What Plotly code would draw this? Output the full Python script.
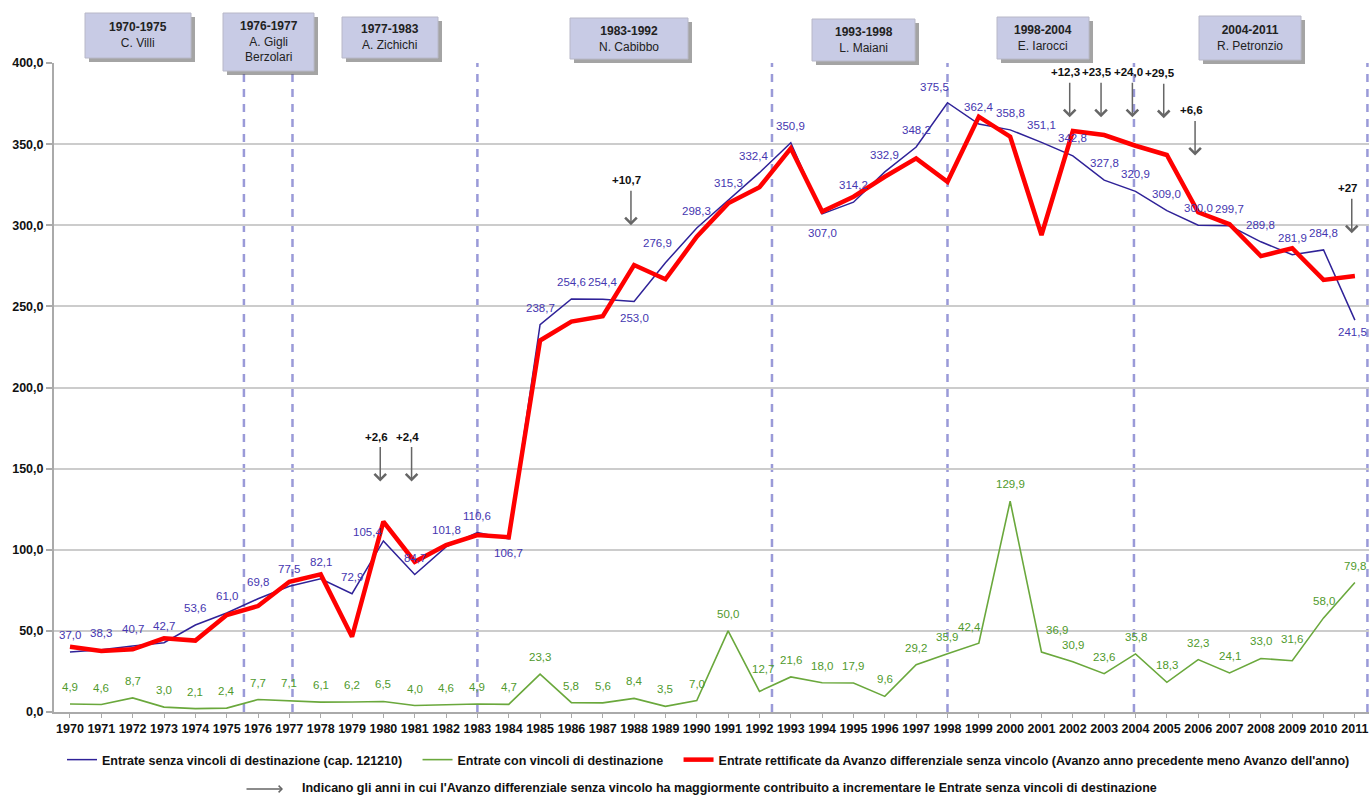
import plotly.graph_objects as go

# ---------------- data ----------------
years = list(range(1970, 2012))
entrate_senza_vincoli = [37.0, 38.3, 40.7, 42.7, 53.6, 61.0, 69.8, 77.5, 82.1, 72.9,
                         105.4, 84.7, 101.8, 110.6, 106.7, 238.7, 254.6, 254.4, 253.0, 276.9,
                         298.3, 315.3, 332.4, 350.9, 307.0, 314.2, 332.9, 348.2, 375.5, 362.4,
                         358.8, 351.1, 342.8, 327.8, 320.9, 309.0, 300.0, 299.7, 289.8, 281.9,
                         284.8, 241.5]
entrate_con_vincoli = [4.9, 4.6, 8.7, 3.0, 2.1, 2.4, 7.7, 7.1, 6.1, 6.2,
                       6.5, 4.0, 4.6, 4.9, 4.7, 23.3, 5.8, 5.6, 8.4, 3.5,
                       7.0, 50.0, 12.7, 21.6, 18.0, 17.9, 9.6, 29.2, 35.9, 42.4,
                       129.9, 36.9, 30.9, 23.6, 35.8, 18.3, 32.3, 24.1, 33.0, 31.6,
                       58.0, 79.8]
entrate_rettificate = [40.2, 37.6, 38.6, 45.4, 44.0, 59.8, 65.3, 80.3, 84.8, 46.4,
                       117.3, 92.6, 102.9, 109.1, 107.7, 229.0, 240.6, 244.0, 275.5, 266.7,
                       292.9, 313.5, 323.4, 347.4, 308.4, 317.6, 329.9, 341.2, 326.8, 366.9,
                       354.6, 294.0, 358.1, 355.6, 349.0, 343.3, 308.0, 300.6, 281.0, 285.8,
                       266.3, 268.7]

series_names = [
    "Entrate senza vincoli di destinazione (cap. 121210)",
    "Entrate con vincoli di destinazione",
    "Entrate rettificate da Avanzo differenziale senza vincolo (Avanzo anno precedente meno Avanzo dell'anno)",
]

tenure_periods = ["1970-1975", "1976-1977", "1977-1983", "1983-1992", "1993-1998", "1998-2004", "2004-2011"]
tenure_names = ["C. Villi", "A. Gigli<br>Berzolari", "A. Zichichi", "N. Cabibbo", "L. Maiani", "E. Iarocci", "R. Petronzio"]
tenure_dividers = [1975.55, 1977.1, 1983.0, 1992.4, 1998.0, 2003.95, 2011.4]

avanzo_years = [1980, 1981, 1988, 2002, 2003, 2004, 2005, 2006, 2011]
avanzo_labels = ["+2,6", "+2,4", "+10,7", "+12,3", "+23,5", "+24,0", "+29,5", "+6,6", "+27"]

footnote = "Indicano gli anni in cui l'Avanzo differenziale senza vincolo ha maggiormente contribuito a incrementare le Entrate senza vincoli di destinazione"

# ---------------- layout / style settings ----------------
W, H = 1369, 796
ML, MR, MT, MB = 54, 0, 63, 84
PW, PH = W - ML - MR, H - MT - MB
XMIN, XMAX = 1969.49, 2011.45

BLUE = "#2f2298"
BLUE_TXT = "#4536b0"
GREEN = "#6aa83c"
GREEN_TXT = "#4f9a2c"
RED = "#ff0000"
DASH = "#9a9ad8"
BOX_FILL = "#c8cbe5"
FONT = "Arial, Liberation Sans"

def px_x(px):
    return (px - ML) / PW

def px_y(py):
    return (H - MB - py) / PH

# box pixel rects (x0, y0, x1, y1)
box_rects = [(85, 13, 191, 58), (223, 13, 314, 71), (342, 17, 438, 58), (570, 18, 688, 59),
             (812, 19, 915, 61), (997, 17, 1089, 59), (1199, 16, 1301, 60)]
# arrow tip heights (value-axis units)
arrow_tips = [142, 142, 300, 366.5, 366.5, 366.5, 366, 343, 295]

# label offset overrides: index -> (xshift, yshift)
blue_off = {10: (-16, 9), 14: (0, -14), 18: (0, -16), 19: (-8, 20), 22: (-6, 17), 24: (0, -19),
            28: (-13, 16), 32: (0, 18), 41: (-2, -12)}
green_off = {22: (4, 22), 29: (-9, 16), 31: (15, 22), 39: (0, 22)}

def fmt(v):
    return f"{v:.1f}".replace(".", ",")

NB = "\u00a0" * 3  # small spacing after legend entries

fig = go.Figure()

fig.add_trace(go.Scatter(x=years, y=entrate_senza_vincoli, mode="lines", name=series_names[0] + NB,
                         line=dict(color=BLUE, width=1.5)))
fig.add_trace(go.Scatter(x=years, y=entrate_con_vincoli, mode="lines", name=series_names[1] + NB,
                         line=dict(color=GREEN, width=1.6)))
fig.add_trace(go.Scatter(x=years, y=entrate_rettificate, mode="lines", name=series_names[2],
                         line=dict(color=RED, width=4.5)))

shapes = []
annotations = []

# dashed tenure dividers
for xd in tenure_dividers:
    shapes.append(dict(type="line", xref="x", yref="y", x0=xd, x1=xd, y0=0, y1=400,
                       line=dict(color=DASH, width=2.5, dash="8px,7px"), layer="below"))

# tenure boxes
for (x0, y0, x1, y1), per, nm in zip(box_rects, tenure_periods, tenure_names):
    shapes.append(dict(type="rect", xref="paper", yref="paper",
                       x0=px_x(x0 + 4), x1=px_x(x1 + 4), y0=px_y(y1 + 4), y1=px_y(y0 + 4),
                       fillcolor="rgba(90,90,90,0.55)", line=dict(width=0), layer="above"))
    shapes.append(dict(type="rect", xref="paper", yref="paper",
                       x0=px_x(x0), x1=px_x(x1), y0=px_y(y1), y1=px_y(y0),
                       fillcolor=BOX_FILL, line=dict(color="#b8b8c8", width=1), layer="above"))
    annotations.append(dict(xref="paper", yref="paper", x=px_x((x0 + x1) / 2),
                            y=px_y((y0 + y1) / 2), text=f"<b>{per}</b><br>{nm}",
                            showarrow=False, xanchor="center", yanchor="middle",
                            font=dict(family=FONT, size=12, color="#222")))

# data labels
for i, (yr, v) in enumerate(zip(years, entrate_senza_vincoli)):
    xs, ys = blue_off.get(i, (0, 17))
    annotations.append(dict(x=yr, y=v, xref="x", yref="y", text=fmt(v), showarrow=False,
                            xshift=xs, yshift=ys, yanchor="middle",
                            font=dict(family=FONT, size=11.5, color=BLUE_TXT)))
for i, (yr, v) in enumerate(zip(years, entrate_con_vincoli)):
    xs, ys = green_off.get(i, (0, 17))
    annotations.append(dict(x=yr, y=v, xref="x", yref="y", text=fmt(v), showarrow=False,
                            xshift=xs, yshift=ys, yanchor="middle",
                            font=dict(family=FONT, size=11.5, color=GREEN_TXT)))

# avanzo arrows
for yr, lab, tip in zip(avanzo_years, avanzo_labels, arrow_tips):
    annotations.append(dict(x=yr - 0.1, y=tip, xref="x", yref="y", text="", showarrow=True,
                            ax=0, ay=-36, arrowhead=4, arrowsize=1.5, arrowwidth=1.5,
                            arrowcolor="#666", standoff=0))
    annotations.append(dict(x=yr - 0.1, y=tip, xref="x", yref="y", text=f"<b>{lab}</b>",
                            showarrow=False, xshift=-4, yshift=45, yanchor="middle",
                            font=dict(family=FONT, size=11.5, color="#111")))

# footnote arrow and text
annotations.append(dict(xref="paper", yref="paper", x=px_x(283), y=px_y(789), text="",
                        showarrow=True, axref="pixel", ayref="pixel", ax=-38, ay=0,
                        arrowhead=4, arrowsize=1.0, arrowwidth=1.3, arrowcolor="#666", standoff=0))
annotations.append(dict(xref="paper", yref="paper", x=px_x(300), y=px_y(788), text=f"<b>{footnote}</b>",
                        showarrow=False, xanchor="left", yanchor="middle",
                        font=dict(family=FONT, size=12.5, color="#111")))

fig.update_layout(
    width=W, height=H, autosize=False,
    margin=dict(l=ML, r=MR, t=MT, b=MB, pad=0),
    paper_bgcolor="white", plot_bgcolor="white",
    separators=",.",
    font=dict(family=FONT, color="#111"),
    shapes=shapes, annotations=annotations,
    showlegend=True,
    legend=dict(orientation="h", x=px_x(62), y=px_y(760), xanchor="left", yanchor="middle",
                font=dict(family=FONT, size=12.5, color="#111", weight="bold"),
                itemwidth=30, bgcolor="rgba(0,0,0,0)", tracegroupgap=0),
    xaxis=dict(range=[XMIN, XMAX], tickmode="array", tickvals=years,
               ticktext=[str(y) for y in years],
               tickfont=dict(family=FONT, size=12.5, color="#111", weight="bold"),
               ticks="outside", ticklen=4, tickcolor="#aaa", tickwidth=1,
               showgrid=False, showline=True, linecolor="#aaa", linewidth=2, zeroline=False,
               fixedrange=True),
    yaxis=dict(range=[0, 400], tickmode="linear", tick0=0, dtick=50, tickformat=".1f",
               tickfont=dict(family=FONT, size=12.5, color="#111", weight="bold"),
               ticks="outside", ticklen=6, tickcolor="#aaa", tickwidth=1.5,
               showgrid=True, gridcolor="#cccccc", gridwidth=1.5,
               showline=True, linecolor="#aaa", linewidth=2, zeroline=False,
               fixedrange=True),
)

fig.write_html("out.html", config={"displayModeBar": False},
               post_script="document.body.style.margin='0';document.body.style.overflow='hidden';")
